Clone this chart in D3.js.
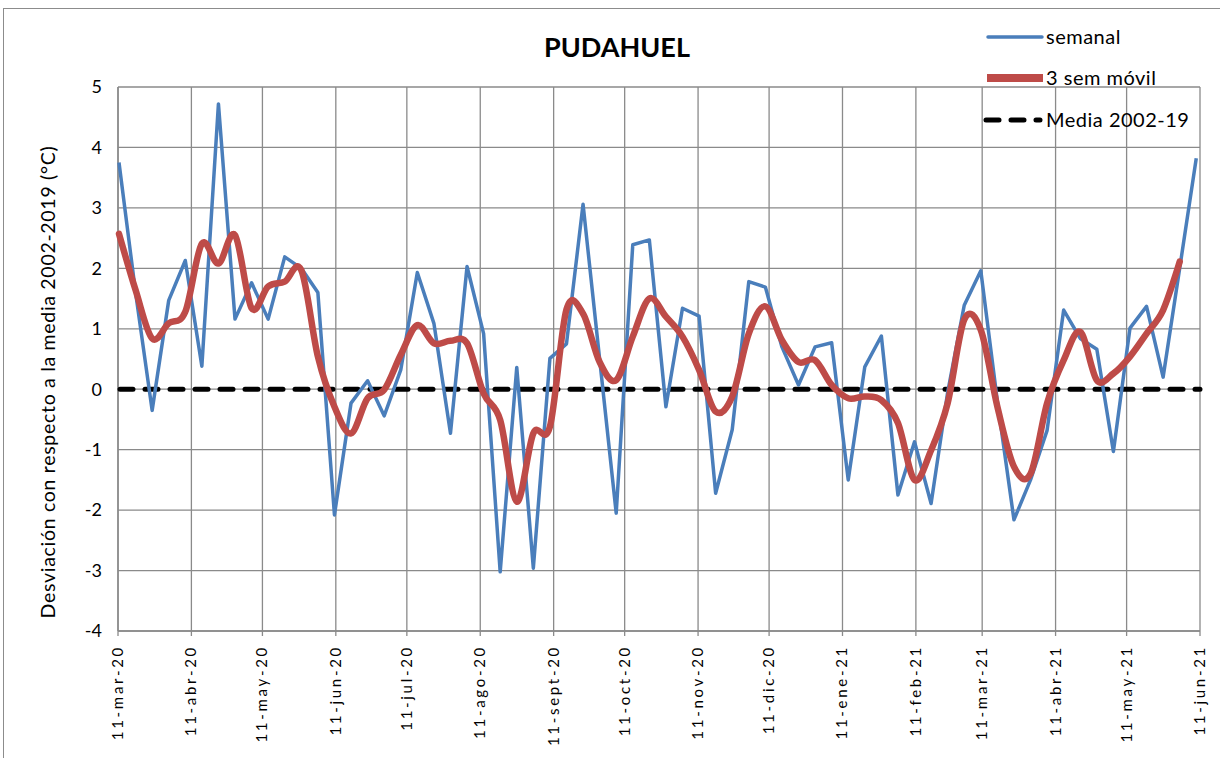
<!DOCTYPE html>
<html><head><meta charset="utf-8">
<script src="https://cdn.jsdelivr.net/npm/d3@7"></script>
<style>body{margin:0;background:#fff}svg{display:block}</style>
</head><body><svg id="c" width="1220" height="758"></svg>
<script>
// ---- data ----
const startDate = "2020-03-11";            // first weekly point
const semanal = [3.75,1.6,-0.35,1.47,2.13,0.38,4.72,1.16,1.76,1.16,2.19,2.0,1.6,-2.08,-0.23,0.14,-0.44,0.32,1.93,1.09,-0.73,2.03,0.92,-3.02,0.36,-2.96,0.51,0.75,3.06,0.5,-2.05,2.39,2.47,-0.29,1.34,1.21,-1.72,-0.67,1.78,1.69,0.7,0.07,0.70,0.77,-1.50,0.37,0.88,-1.75,-0.87,-1.89,-0.05,1.39,1.96,-0.2,-2.16,-1.5,-0.68,1.31,0.84,0.66,-1.03,1.01,1.37,0.20,2.0,3.82];
const movil3 = [2.57,1.64,0.84,1.09,1.28,2.41,2.08,2.55,1.34,1.70,1.78,1.97,0.54,-0.29,-0.73,-0.15,-0.01,0.57,1.06,0.76,0.80,0.76,-0.07,-0.51,-1.86,-0.73,-0.62,1.32,1.25,0.45,0.15,0.87,1.50,1.20,0.87,0.32,-0.37,-0.12,0.92,1.37,0.81,0.45,0.48,0.07,-0.15,-0.12,-0.18,-0.56,-1.50,-1.01,-0.23,1.15,0.98,-0.29,-1.28,-1.40,-0.23,0.48,0.95,0.15,0.26,0.54,0.92,1.31,2.11];
const mediaValue = 0;
const tickDates = ["2020-03-11","2020-04-11","2020-05-11","2020-06-11","2020-07-11","2020-08-11","2020-09-11","2020-10-11","2020-11-11","2020-12-11","2021-01-11","2021-02-11","2021-03-11","2021-04-11","2021-05-11","2021-06-11"];
const tickLabels = ["11-mar-20","11-abr-20","11-may-20","11-jun-20","11-jul-20","11-ago-20","11-sept-20","11-oct-20","11-nov-20","11-dic-20","11-ene-21","11-feb-21","11-mar-21","11-abr-21","11-may-21","11-jun-21"];
const yTicks = [5,4,3,2,1,0,-1,-2,-3,-4];
const seriesNames = ["semanal","3 sem móvil","Media 2002-19"];

// ---- setup ----
const parse = d3.timeParse("%Y-%m-%d");
const start = parse(startDate);
const dates = semanal.map((_, i) => d3.timeDay.offset(start, 7 * i));
const svg = d3.select("#c");
const L = 118, R = 1200, T = 87, B = 631;
const font = "Lato, 'Open Sans', sans-serif";

const x = d3.scaleTime().domain([parse(tickDates[0]), parse(tickDates[tickDates.length-1])]).range([L, R]);
const y = d3.scaleLinear().domain([-4, 5]).range([B, T]);

// outer border
svg.append("rect").attr("x", 3.5).attr("y", 8.5).attr("width", 1230).attr("height", 760)
  .attr("fill", "none").attr("stroke", "#8c8c8c").attr("stroke-width", 1);

// grid
const grid = svg.append("g").attr("stroke", "#8a8a8a").attr("stroke-width", 1.3);
yTicks.forEach(v => grid.append("line").attr("x1", L).attr("x2", R).attr("y1", y(v)).attr("y2", y(v)));
tickDates.forEach(d => grid.append("line").attr("x1", x(parse(d))).attr("x2", x(parse(d))).attr("y1", T).attr("y2", B + 5));
svg.append("line").attr("x1", L).attr("x2", L).attr("y1", T).attr("y2", B).attr("stroke", "#8a8a8a").attr("stroke-width", 1.5);
svg.append("line").attr("x1", L).attr("x2", R).attr("y1", B).attr("y2", B).attr("stroke", "#8a8a8a").attr("stroke-width", 1.5);

// y tick labels
svg.append("g").selectAll("text").data(yTicks).join("text")
  .attr("x", L - 16).attr("y", d => y(d)).attr("dy", "0.35em")
  .attr("text-anchor", "end").attr("font-family", font).attr("font-size", 18).attr("fill", "#000")
  .text(d => d);

// x tick labels
svg.append("g").selectAll("text").data(tickDates).join("text")
  .attr("transform", (d) => `translate(${x(parse(d)) + 5},${B + 14}) rotate(-90)`)
  .attr("text-anchor", "end").attr("font-family", font).attr("font-size", 15)
  .attr("letter-spacing", "2.7px").attr("fill", "#000")
  .text((d, i) => tickLabels[i]);

// y axis title
svg.append("text").attr("transform", `translate(55,382) rotate(-90)`)
  .attr("text-anchor", "middle").attr("font-family", font).attr("font-size", 19.5)
  .attr("letter-spacing", "0.7px").attr("fill", "#000")
  .text("Desviación con respecto a la media  2002-2019 (°C)");

// title
svg.append("text").attr("x", 617).attr("y", 57).attr("text-anchor", "middle")
  .attr("font-family", font).attr("font-weight", "bold").attr("font-size", 27).attr("fill", "#000")
  .text("PUDAHUEL");

// media line
svg.append("line").attr("x1", L + 2).attr("x2", R).attr("y1", y(mediaValue)).attr("y2", y(mediaValue))
  .attr("stroke", "#000").attr("stroke-width", 5).attr("stroke-dasharray", "13,12").attr("stroke-linecap", "round");

// semanal line
const lineS = d3.line().x((d, i) => x(dates[i]) + 1).y(d => y(d));
svg.append("path").datum(semanal).attr("d", lineS).attr("fill", "none")
  .attr("stroke", "#4a7ebb").attr("stroke-width", 3.5).attr("stroke-linejoin", "round");

// 3 sem movil (smoothed)
const lineM = d3.line().x((d, i) => x(dates[i]) + 1).y(d => y(d)).curve(d3.curveCatmullRom.alpha(0));
svg.append("path").datum(movil3).attr("d", lineM).attr("fill", "none")
  .attr("stroke", "#be4b48").attr("stroke-width", 6.5).attr("stroke-linecap", "round").attr("stroke-linejoin", "round");

// legend
const lg = svg.append("g");
lg.append("line").attr("x1", 988).attr("x2", 1042).attr("y1", 37).attr("y2", 37)
  .attr("stroke", "#4a7ebb").attr("stroke-width", 3.5).attr("stroke-linecap", "round");
lg.append("line").attr("x1", 987).attr("x2", 1043).attr("y1", 78).attr("y2", 78)
  .attr("stroke", "#be4b48").attr("stroke-width", 8);
lg.append("line").attr("x1", 986).attr("x2", 1040).attr("y1", 120).attr("y2", 120)
  .attr("stroke", "#000").attr("stroke-width", 5).attr("stroke-dasharray", "13,12").attr("stroke-linecap", "round");
const ly = [37, 78, 120];
lg.selectAll("text").data(seriesNames).join("text")
  .attr("x", 1046).attr("y", (d, i) => ly[i]).attr("dy", "0.35em")
  .attr("font-family", font).attr("font-size", 20).attr("letter-spacing", "0.5px").attr("fill", "#000").text(d => d);
</script></body></html>
